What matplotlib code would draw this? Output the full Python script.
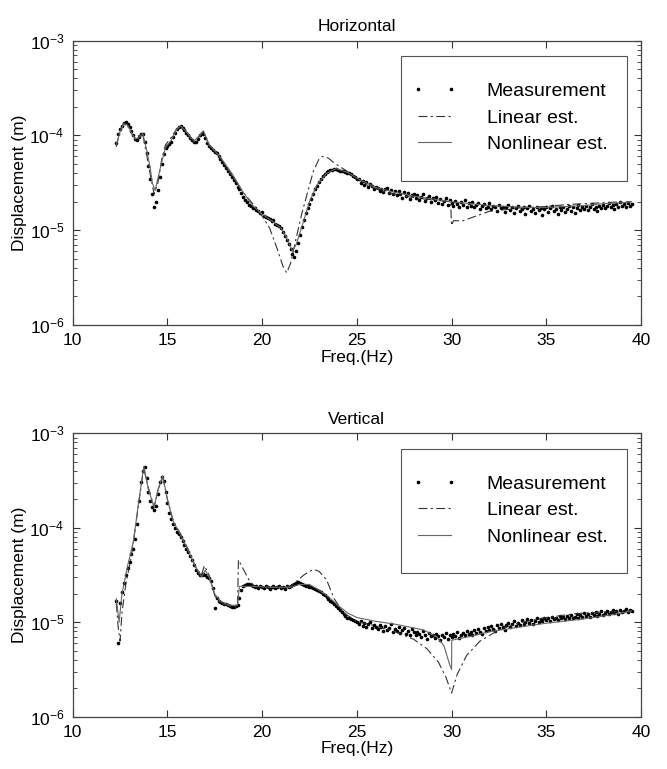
import numpy as np
import matplotlib
matplotlib.use("Agg")
from matplotlib import pyplot as plt
from matplotlib.patches import Rectangle

plt.rcParams['font.family'] = ['Liberation Sans', 'DejaVu Sans']
plt.rcParams['mathtext.fontset'] = 'custom'
plt.rcParams['mathtext.rm'] = 'Liberation Sans'
plt.rcParams['mathtext.it'] = 'Liberation Sans'

# measurement frequencies (Hz), 12.3 ... 39.5
freq = np.round(np.arange(12.3, 39.55, 0.1), 1)

# horizontal: measured displacement, log10(m)
h_meas = [
    -4.08, -3.98, -3.93, -3.90, -3.87, -3.86, -3.88, -3.91, -3.95, -4.00,   # 12.3
    -4.04, -4.05, -4.02, -3.98, -3.99, -4.07, -4.18, -4.32, -4.46, -4.62,   # 13.3
    -4.76, -4.70, -4.58, -4.44, -4.30, -4.20, -4.13, -4.11, -4.09, -4.07,   # 14.3
    -4.02, -3.97, -3.93, -3.91, -3.90, -3.92, -3.94, -3.97, -4.00, -4.03,   # 15.3
    -4.05, -4.07, -4.07, -4.04, -4.00, -3.97, -3.98, -4.03, -4.08, -4.11,   # 16.3
    -4.13, -4.15, -4.17, -4.19, -4.22, -4.25, -4.28, -4.31, -4.34, -4.38,   # 17.3
    -4.41, -4.44, -4.47, -4.50, -4.54, -4.57, -4.61, -4.65, -4.68, -4.70,   # 18.3
    -4.73, -4.74, -4.77, -4.77, -4.79, -4.80, -4.82, -4.81, -4.85, -4.86,   # 19.3
    -4.87, -4.88, -4.90, -4.89, -4.93, -4.94, -4.96, -4.98, -5.02, -5.06,   # 20.3
    -5.10, -5.15, -5.20, -5.25, -5.28, -5.22, -5.13, -5.05, -4.97, -4.89,   # 21.3
    -4.82, -4.77, -4.72, -4.67, -4.62, -4.57, -4.53, -4.49, -4.46, -4.43,   # 22.3
    -4.41, -4.39, -4.37, -4.36, -4.36, -4.35, -4.35, -4.36, -4.37, -4.37,   # 23.3
    -4.38, -4.39, -4.40, -4.40, -4.41, -4.43, -4.44, -4.46,                 # 24.3
    -4.46, -4.50, -4.48, -4.52, -4.49, -4.54, -4.51, -4.53, -4.57, -4.54,   # 25.1
    -4.55, -4.59, -4.56, -4.60, -4.57, -4.55, -4.61, -4.58, -4.62, -4.59,   # 26.1
    -4.63, -4.59, -4.62, -4.66, -4.60, -4.64, -4.61, -4.67, -4.63, -4.62,   # 27.1
    -4.66, -4.63, -4.68, -4.65, -4.62, -4.69, -4.66, -4.64, -4.70, -4.66,   # 28.1
    -4.68, -4.65, -4.71, -4.67, -4.72, -4.69, -4.66, -4.73, -4.68, -4.71,   # 29.1
    -4.74, -4.69, -4.72, -4.76, -4.70, -4.73, -4.68, -4.75, -4.71, -4.74,   # 30.1
    -4.70, -4.76, -4.73, -4.71, -4.78, -4.74, -4.72, -4.77, -4.75, -4.71,   # 31.1
    -4.78, -4.74, -4.76, -4.80, -4.73, -4.77, -4.75, -4.81, -4.76, -4.73,   # 32.1
    -4.79, -4.75, -4.82, -4.77, -4.74, -4.80, -4.78, -4.76, -4.83, -4.77,   # 33.1
    -4.74, -4.80, -4.78, -4.82, -4.75, -4.79, -4.77, -4.84, -4.78, -4.75,   # 34.1
    -4.81, -4.77, -4.74, -4.80, -4.78, -4.83, -4.76, -4.79, -4.75, -4.81,   # 35.1
    -4.78, -4.74, -4.80, -4.76, -4.82, -4.77, -4.73, -4.79, -4.76, -4.78,   # 36.1
    -4.74, -4.79, -4.76, -4.72, -4.78, -4.75, -4.80, -4.74, -4.77, -4.73,   # 37.1
    -4.77, -4.74, -4.71, -4.76, -4.73, -4.78, -4.72, -4.75, -4.70, -4.74,   # 38.1
    -4.72, -4.75, -4.71, -4.74, -4.72,                                      # 39.1
]

# horizontal: linear estimate
h_lin_f = [12.3, 12.5, 12.7, 12.9, 13.1, 13.3, 13.5, 13.7, 13.9, 14.1, 14.3, 14.5,
           14.7, 14.9, 15.2, 15.5, 15.7, 16.0, 16.4, 16.7, 16.9, 17.2, 17.8, 18.4,
           19.0, 19.5, 20.0, 20.4, 20.8, 21.1, 21.3, 21.5, 21.8, 22.1, 22.4, 22.7,
           23.0, 23.2, 23.5, 23.8, 24.5, 25.5, 26.5, 27.5, 28.5, 29.5, 29.95, 30.0,
           30.1, 30.6, 31.3, 32.0, 33.0, 34.0, 35.0, 36.0, 37.0, 38.0, 39.0, 39.5]
h_lin = [-4.12, -3.95, -3.87, -3.90, -3.98, -4.03, -4.00, -3.99, -4.20, -4.42, -4.62, -4.50,
         -4.25, -4.10, -4.02, -3.93, -3.91, -3.97, -4.07, -4.01, -3.96, -4.10, -4.24, -4.42,
         -4.60, -4.72, -4.85, -4.98, -5.20, -5.38, -5.45, -5.35, -5.08, -4.82, -4.60, -4.38,
         -4.25, -4.22, -4.24, -4.29, -4.38, -4.52, -4.60, -4.64, -4.67, -4.69, -4.70, -4.95,
         -4.90, -4.90, -4.85, -4.80, -4.78, -4.76, -4.75, -4.73, -4.72, -4.71, -4.70, -4.70]

# horizontal: nonlinear estimate
h_non_f = [12.3, 12.5, 12.7, 12.9, 13.1, 13.3, 13.5, 13.7, 13.9, 14.1, 14.2, 14.35,
           14.5, 14.7, 14.9, 15.2, 15.5, 15.7, 16.0, 16.4, 16.7, 16.9, 17.2, 17.8,
           18.4, 19.0, 19.5, 20.0, 20.5, 21.0, 21.3, 21.6, 21.8, 22.1, 22.5, 22.9,
           23.4, 23.9, 24.5, 25.0, 26.0, 27.0, 28.0, 29.0, 30.0, 31.0, 32.0, 33.0,
           34.0, 35.0, 36.0, 37.0, 38.0, 39.0, 39.5]
h_non = [-4.10, -3.96, -3.88, -3.89, -3.97, -4.04, -4.02, -3.98, -4.15, -4.35, -4.50, -4.58,
         -4.45, -4.28, -4.13, -4.05, -3.93, -3.90, -3.96, -4.06, -4.00, -3.95, -4.10, -4.23,
         -4.40, -4.60, -4.74, -4.83, -4.90, -4.98, -5.08, -5.22, -5.15, -4.96, -4.70, -4.52,
         -4.40, -4.35, -4.39, -4.45, -4.55, -4.60, -4.64, -4.67, -4.70, -4.72, -4.74, -4.75,
         -4.76, -4.76, -4.75, -4.74, -4.72, -4.71, -4.70]

# vertical: measured displacement, log10(m)
v_meas = [
    -4.78, -5.22, -4.80, -4.68, -4.58, -4.50, -4.43, -4.36, -4.28, -4.22,   # 12.3
    -4.12, -3.96, -3.72, -3.52, -3.40, -3.36, -3.47, -3.62, -3.72, -3.78,   # 13.3
    -3.81, -3.77, -3.64, -3.52, -3.46, -3.50, -3.62, -3.74, -3.84, -3.91,   # 14.3
    -3.96, -4.00, -4.04, -4.07, -4.10, -4.14, -4.18, -4.22, -4.26, -4.30,   # 15.3
    -4.34, -4.39, -4.45, -4.48, -4.50, -4.50, -4.49, -4.50, -4.52, -4.53,   # 16.3
    -4.56, -4.64, -4.85, -4.74, -4.77, -4.79, -4.80, -4.81, -4.81, -4.82,   # 17.3
    -4.83, -4.84, -4.84, -4.83, -4.82, -4.74, -4.66, -4.62, -4.61, -4.60,   # 18.3
    -4.60, -4.61, -4.62, -4.63, -4.62, -4.64, -4.62, -4.63, -4.64, -4.62,   # 19.3
    -4.63, -4.65, -4.63, -4.62, -4.64, -4.63, -4.62, -4.64, -4.63, -4.65,   # 20.3
    -4.62, -4.63, -4.62, -4.61, -4.59, -4.58, -4.57, -4.58, -4.59, -4.61,   # 21.3
    -4.62, -4.62, -4.63, -4.63, -4.64, -4.65, -4.66, -4.67, -4.68, -4.70,   # 22.3
    -4.71, -4.73, -4.75, -4.77, -4.79, -4.81, -4.83, -4.85, -4.87, -4.89,   # 23.3
    -4.91, -4.93, -4.95, -4.96, -4.97, -4.98, -4.99, -5.00,                 # 24.3
    -5.02, -4.99, -5.04, -5.01, -5.05, -5.02, -5.00, -5.06, -5.03, -5.05,   # 25.1
    -5.07, -5.03, -5.05, -5.09, -5.04, -5.08, -5.06, -5.02, -5.10, -5.07,   # 26.1
    -5.09, -5.05, -5.11, -5.08, -5.06, -5.12, -5.09, -5.13, -5.07, -5.10,   # 27.1
    -5.14, -5.10, -5.12, -5.16, -5.09, -5.13, -5.18, -5.11, -5.15, -5.13,   # 28.1
    -5.17, -5.12, -5.15, -5.19, -5.13, -5.16, -5.11, -5.18, -5.14, -5.16,   # 29.1
    -5.12, -5.15, -5.10, -5.17, -5.13, -5.11, -5.14, -5.09, -5.12, -5.10,   # 30.1
    -5.13, -5.08, -5.11, -5.07, -5.10, -5.12, -5.06, -5.09, -5.05, -5.08,   # 31.1
    -5.04, -5.07, -5.09, -5.03, -5.06, -5.02, -5.05, -5.08, -5.03, -5.01,   # 32.1
    -5.05, -5.02, -4.99, -5.04, -5.01, -5.03, -4.98, -5.02, -5.00, -4.97,   # 33.1
    -5.01, -4.98, -5.02, -4.99, -4.96, -5.00, -4.97, -4.99, -4.95, -4.98,   # 34.1
    -4.96, -4.99, -4.94, -4.97, -4.95, -4.98, -4.93, -4.96, -4.94, -4.97,   # 35.1
    -4.93, -4.95, -4.92, -4.96, -4.94, -4.91, -4.95, -4.92, -4.94, -4.90,   # 36.1
    -4.93, -4.91, -4.94, -4.90, -4.92, -4.89, -4.93, -4.91, -4.88, -4.92,   # 37.1
    -4.90, -4.88, -4.91, -4.89, -4.87, -4.90, -4.88, -4.91, -4.87, -4.89,   # 38.1
    -4.88, -4.86, -4.89, -4.87, -4.88,                                      # 39.1
]

# vertical: linear estimate
v_lin_f = [12.3, 12.4, 12.5, 12.6, 12.8, 13.1, 13.5, 13.75, 14.0, 14.3, 14.5, 14.75,
           15.0, 15.3, 15.7, 16.1, 16.5, 16.8, 16.95, 17.2, 17.5, 17.8, 18.3, 18.7,
           18.75, 19.3, 19.6, 20.5, 21.5, 22.2, 22.7, 23.0, 23.4, 23.8, 24.3, 25.0,
           26.0, 27.0, 28.0, 28.7, 29.3, 29.7, 30.0, 30.3, 30.8, 31.5, 32.5, 33.5,
           35.0, 36.5, 38.0, 39.5]
v_lin = [-4.80, -5.05, -5.20, -4.90, -4.60, -4.30, -3.72, -3.37, -3.58, -3.78, -3.60, -3.46,
         -3.70, -3.92, -4.07, -4.23, -4.42, -4.50, -4.40, -4.50, -4.72, -4.80, -4.83, -4.84,
         -4.34, -4.55, -4.62, -4.63, -4.62, -4.50, -4.44, -4.46, -4.55, -4.75, -4.90, -4.99,
         -5.04, -5.10, -5.18, -5.28, -5.42, -5.58, -5.75, -5.55, -5.35, -5.20, -5.08, -5.01,
         -4.95, -4.91, -4.89, -4.89]

# vertical: nonlinear estimate
v_non_f = [12.3, 12.45, 12.6, 12.9, 13.2, 13.5, 13.75, 14.0, 14.3, 14.5, 14.75, 15.0,
           15.3, 15.7, 16.1, 16.5, 16.8, 17.0, 17.2, 17.5, 17.8, 18.3, 18.7, 18.8,
           19.5, 20.5, 21.5, 22.0, 22.5, 23.0, 23.5, 24.0, 24.5, 25.0, 26.0, 27.0,
           28.0, 28.5, 29.2, 29.6, 29.9, 30.0, 30.01, 31.0, 32.0, 33.3, 35.0, 36.8,
           38.5, 39.5]
v_non = [-4.75, -5.00, -4.70, -4.40, -4.15, -3.70, -3.35, -3.60, -3.78, -3.60, -3.45, -3.70,
         -3.93, -4.08, -4.24, -4.42, -4.52, -4.45, -4.52, -4.70, -4.78, -4.82, -4.82, -4.62,
         -4.62, -4.63, -4.63, -4.60, -4.60, -4.66, -4.73, -4.82, -4.90, -4.95, -4.99, -5.02,
         -5.06, -5.08, -5.15, -5.25, -5.45, -5.50, -5.19, -5.15, -5.10, -5.06, -5.01, -4.97,
         -4.92, -4.88]


def draw_panel(ax, title, meas, lin_f, lin, non_f, non):
    ax.plot(freq, 10.0 ** np.array(meas), 'k.', markersize=3.2, label='Measurement')
    ax.plot(lin_f, 10.0 ** np.array(lin), color='#333333', lw=0.8,
            linestyle=(0, (8, 3, 2, 3)), label='Linear est.')
    ax.plot(non_f, 10.0 ** np.array(non), color='#666666', lw=0.8, label='Nonlinear est.')

    ax.set_yscale('log')
    ax.set_xlim(10, 40)
    ax.set_ylim(1e-6, 1e-3)
    ax.set_xticks(np.arange(10, 41, 5))
    ax.tick_params(which='both', direction='in', top=True, right=True,
                   labelsize=12.5, color='#333333')
    ax.tick_params(which='major', length=5, pad=6)
    ax.tick_params(which='minor', length=3)
    for s in ax.spines.values():
        s.set_color('#444444')
        s.set_linewidth(0.9)

    ax.set_title(title, fontsize=12.5, pad=7)
    ax.set_xlabel('Freq.(Hz)', fontsize=12.5, labelpad=1)
    ax.set_ylabel('Displacement (m)', fontsize=12.5, labelpad=2)

    ax.add_patch(Rectangle((0.577, 0.506), 0.398, 0.44, transform=ax.transAxes,
                           fill=False, edgecolor='#555555', lw=0.8))
    ax.legend(loc='upper left', bbox_to_anchor=(0.597, 0.853), frameon=False,
              borderpad=0, borderaxespad=0, numpoints=2, fontsize=14,
              handlelength=2.31, handletextpad=1.54, labelspacing=0.46)


fig = plt.figure(figsize=(6.67, 7.69), dpi=100)
ax1 = fig.add_axes([0.109, 0.5774, 0.852, 0.3697])
ax2 = fig.add_axes([0.109, 0.068, 0.852, 0.3685])

draw_panel(ax1, 'Horizontal', h_meas, h_lin_f, h_lin, h_non_f, h_non)
draw_panel(ax2, 'Vertical', v_meas, v_lin_f, v_lin, v_non_f, v_non)

fig.savefig('out.png', dpi=100)
